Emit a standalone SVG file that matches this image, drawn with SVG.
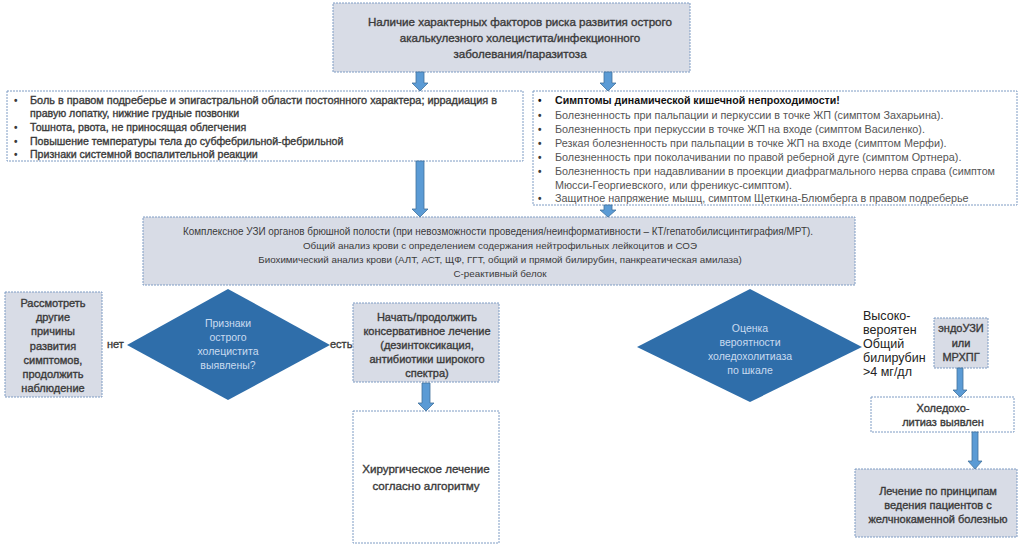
<svg xmlns="http://www.w3.org/2000/svg" width="1024" height="547" viewBox="0 0 1024 547">
<style>
.box{fill:#d8dce6;stroke:#7f9cc4;stroke-width:1;stroke-dasharray:2 1}
.wbox{fill:#ffffff;stroke:#7f9cc4;stroke-width:1;stroke-dasharray:2 1}
.dia{fill:#2f6eaa;stroke:none}
.arr{fill:#5b9bd5;stroke:#41719c;stroke-width:0.8}
text{font-family:"Liberation Sans",Arial,sans-serif;font-size:10px;fill:#3a3a3a}
.c{text-anchor:middle}
.s{stroke:#3a3a3a;stroke-width:0.35}
.b{font-weight:bold}
.g{fill:#555555;font-size:10.8px}
.dt{fill:#c9dbf0;font-size:10.5px}
.lbl{font-size:12.5px;fill:#222}
.t{font-size:11.6px}
.l{font-size:10.6px}
.m{font-size:11px}
.x{font-size:9.8px}
</style>
<rect width="1024" height="547" fill="#ffffff"/>
<g id="top">
<rect class="box" x="333" y="3" width="357" height="69"/>
<text class="c s t" x="520" y="26">Наличие характерных факторов риска развития острого</text>
<text class="c s t" x="520" y="42">акалькулезного холецистита/инфекционного</text>
<text class="c s t" x="520" y="58">заболевания/паразитоза</text>
</g>
<g id="left-symptoms">
<rect class="wbox" x="7" y="91" width="516" height="70"/>
<text x="14" y="104" class="b">•</text><text x="30" y="104" class="s l" textLength="467" lengthAdjust="spacingAndGlyphs">Боль в правом подреберье и эпигастральной области постоянного характера; иррадиация в</text>
<text x="30" y="117" class="s l">правую лопатку, нижние грудные позвонки</text>
<text x="14" y="131" class="b">•</text><text x="30" y="131" class="s l">Тошнота, рвота, не приносящая облегчения</text>
<text x="14" y="145" class="b">•</text><text x="30" y="145" class="s l">Повышение температуры тела до субфебрильной-фебрильной</text>
<text x="14" y="158" class="b">•</text><text x="30" y="158" class="s l">Признаки системной воспалительной реакции</text>
</g>
<g id="right-symptoms">
<rect class="wbox" x="533" y="91" width="484" height="114"/>
<text x="538" y="104" class="b" style="fill:#111">•</text><text x="555" y="104" class="b" style="fill:#111;font-size:10.6px">Симптомы динамической кишечной непроходимости!</text>
<text x="538" y="119" class="b">•</text><text x="555" y="119" class="g">Болезненность при пальпации и перкуссии в точке ЖП (симптом Захарьина).</text>
<text x="538" y="133" class="b">•</text><text x="555" y="133" class="g">Болезненность при перкуссии в точке ЖП на входе (симптом  Василенко).</text>
<text x="538" y="147" class="b">•</text><text x="555" y="147" class="g">Резкая болезненность при пальпации в точке ЖП на входе (симптом  Мерфи).</text>
<text x="538" y="161" class="b">•</text><text x="555" y="161" class="g">Болезненность при поколачивании по правой реберной дуге (симптом Ортнера).</text>
<text x="538" y="175" class="b">•</text><text x="555" y="175" class="g" textLength="440" lengthAdjust="spacingAndGlyphs">Болезненность при надавливании в проекции диафрагмального нерва справа (симптом</text>
<text x="555" y="189" class="g">Мюсси-Георгиевского, или френикус-симптом).</text>
<text x="538" y="202" class="b">•</text><text x="555" y="202" class="g">Защитное напряжение мышц, симптом Щеткина-Блюмберга в правом подреберье</text>
</g>
<g id="exam">
<rect class="box" x="143" y="217" width="712" height="68"/>
<text class="c" x="498" y="235" textLength="630" lengthAdjust="spacingAndGlyphs">Комплексное УЗИ органов брюшной полости (при невозможности проведения/неинформативности – КТ/гепатобилисцинтиграфия/МРТ).</text>
<text class="c x" x="500" y="249">Общий анализ крови с определением содержания нейтрофильных лейкоцитов и СОЭ</text>
<text class="c x" x="500" y="263">Биохимический анализ крови (АЛТ, АСТ, ЩФ, ГГТ, общий и прямой билирубин, панкреатическая амилаза)</text>
<text class="c x" x="500" y="277">С-реактивный белок</text>
</g>
<g id="other-causes">
<rect class="box" x="5" y="292" width="97" height="105"/>
<text class="c s m" x="53" y="307">Рассмотреть</text>
<text class="c s m" x="53" y="321">другие</text>
<text class="c s m" x="53" y="335">причины</text>
<text class="c s m" x="53" y="350">развития</text>
<text class="c s m" x="53" y="364">симптомов,</text>
<text class="c s m" x="53" y="378">продолжить</text>
<text class="c s m" x="53" y="392">наблюдение</text>
</g>
<g id="decision-cholecystitis">
<polygon class="dia" points="228,289 330,345 228,400 127,345"/>
<text class="c dt" x="228" y="327">Признаки</text>
<text class="c dt" x="228" y="341">острого</text>
<text class="c dt" x="228" y="355">холецистита</text>
<text class="c dt" x="228" y="369">выявлены?</text>
</g>
<g id="labels">
<text class="s" x="107" y="348" style="font-size:11px">нет</text>
<text class="s" x="330" y="348" style="font-size:11px">есть</text>
</g>
<g id="conservative">
<rect class="box" x="353" y="303" width="146" height="79"/>
<text class="c s m" x="427" y="321">Начать/продолжить</text>
<text class="c s m" x="427" y="335">консервативное лечение</text>
<text class="c s m" x="427" y="349">(дезинтоксикация,</text>
<text class="c s m" x="427" y="363">антибиотики широкого</text>
<text class="c s m" x="427" y="377">спектра)</text>
</g>
<g id="surgery">
<rect class="wbox" x="353" y="411" width="146" height="132"/>
<text class="c s" x="426" y="473" style="font-size:11.6px">Хирургическое лечение</text>
<text class="c s" x="426" y="490" style="font-size:11.6px">согласно алгоритму</text>
</g>
<g id="decision-choledocholithiasis">
<polygon class="dia" points="750,289 862,347 750,402 637,347"/>
<text class="c dt" x="750" y="332">Оценка</text>
<text class="c dt" x="750" y="346">вероятности</text>
<text class="c dt" x="750" y="360">холедохолитиаза</text>
<text class="c dt" x="750" y="374">по шкале</text>
</g>
<g id="high-prob">
<text class="lbl" x="863" y="320">Высоко-</text>
<text class="lbl" x="863" y="334">вероятен</text>
<text class="lbl" x="863" y="348">Общий</text>
<text class="lbl" x="863" y="362">билирубин</text>
<text class="lbl" x="863" y="376">&gt;4 мг/дл</text>
</g>
<g id="endo">
<rect class="box" x="934" y="318" width="54" height="50"/>
<text class="c s m" x="961" y="332">эндоУЗИ</text>
<text class="c s m" x="961" y="347">или</text>
<text class="c s m" x="961" y="361">МРХПГ</text>
</g>
<g id="found">
<rect class="wbox" x="871" y="397" width="143" height="35"/>
<text class="c s m" x="943" y="412">Холедохо-</text>
<text class="c s m" x="943" y="426">литиаз выявлен</text>
</g>
<g id="gallstone">
<rect class="box" x="855" y="469" width="162" height="68"/>
<text class="c s m" x="938" y="495">Лечение по принципам</text>
<text class="c s m" x="938" y="509">ведения пациентов с</text>
<text class="c s m" x="938" y="523">желчнокаменной болезнью</text>
</g>
<g id="connectors">
<path class="arr" d="M416 72 H424 V83 H428 L420 91 L412 83 H416 Z"/>
<path class="arr" d="M604 72 H612 V83 H616 L608 91 L600 83 H604 Z"/>
<path class="arr" d="M416 161 H424 V209 H428 L420 217 L412 209 H416 Z"/>
<path class="arr" d="M604 205 H612 V210 H616 L608 217 L600 210 H604 Z"/>
<path class="arr" d="M422 383 H430 V403 H434 L426 411 L418 403 H422 Z"/>
<path class="arr" d="M957 368 H963 V390 H967 L960 397 L953 390 H957 Z"/>
<path class="arr" d="M972 432 H978 V461 H982 L975 469 L968 461 H972 Z"/>
</g>
</svg>
